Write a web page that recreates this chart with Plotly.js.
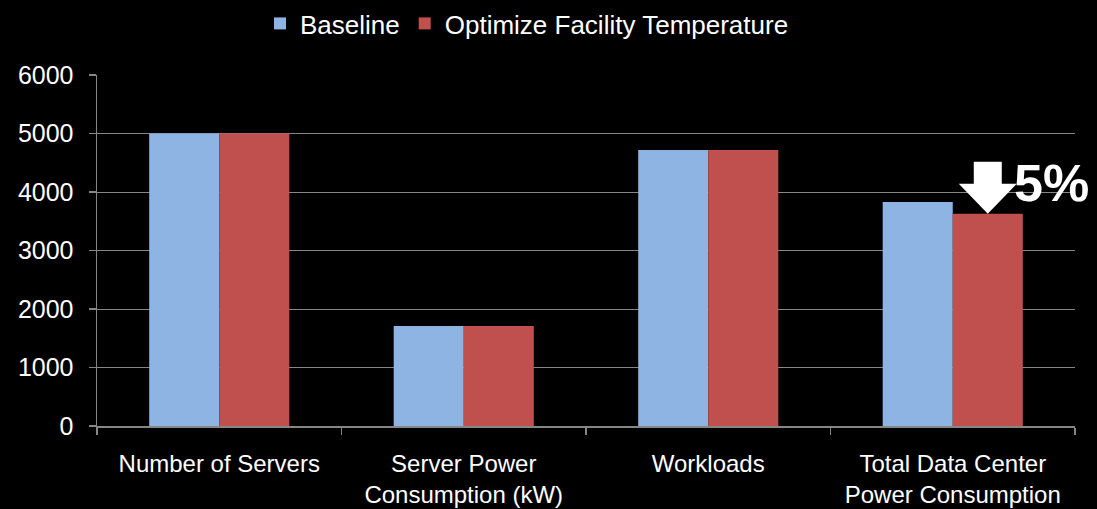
<!DOCTYPE html>
<html>
<head>
<meta charset="utf-8">
<script src="https://cdn.plot.ly/plotly-3.0.1.min.js"></script>
<style>
  html, body { margin: 0; padding: 0; background: #000; }
  #chart { width: 1097px; height: 509px; }
</style>
</head>
<body>
<div id="chart"></div>
<script>
const categories = ["Number of Servers", "Server Power<br>Consumption (kW)", "Workloads", "Total Data Center<br>Power Consumption"];
const baselineValues = [5000, 1710, 4720, 3830];
const optimizedValues = [5000, 1710, 4720, 3630];
const seriesNames = ["Baseline", "Optimize Facility Temperature"];
const yTickValues = [0, 1000, 2000, 3000, 4000, 5000, 6000];
const reductionLabel = "5%";

const FONT = "Liberation Sans, Arial, sans-serif";
const GRID = "#868686";
const BARGAP = 0.427;
const idx = categories.map((_, i) => i);
const boundaries = Array.from({ length: categories.length + 1 }, (_, i) => i - 0.5);

const traces = [
  { type: "bar", name: seriesNames[0], x: idx, y: baselineValues, marker: { color: "#8EB4E3" }, hoverinfo: "y" },
  { type: "bar", name: seriesNames[1], x: idx, y: optimizedValues, marker: { color: "#C0504D" }, hoverinfo: "y" }
];

const last = categories.length - 1;
const tipX = last + (1 - BARGAP) / 4;
const tipY = optimizedValues[last];

const layout = {
  width: 1097, height: 509,
  paper_bgcolor: "#000", plot_bgcolor: "#000",
  margin: { l: 97, r: 22, t: 75, b: 83 },
  font: { family: FONT, size: 25, color: "#fff" },
  barmode: "group", bargap: BARGAP, bargroupgap: 0,
  showlegend: true,
  legend: {
    orientation: "h", xref: "container", yref: "container",
    x: 0.237, xanchor: "left", y: 1, yanchor: "top",
    font: { family: FONT, size: 26, color: "#fff" },
    bgcolor: "rgba(0,0,0,0)", itemclick: false, itemdoubleclick: false
  },
  xaxis: {
    type: "linear", range: [-0.5, categories.length - 0.5],
    tickmode: "array", tickvals: idx, ticktext: categories,
    showgrid: false, zeroline: false,
    showline: true, linecolor: GRID, linewidth: 2,
    ticks: "", tickfont: { family: FONT, size: 24, color: "#fff" },
    ticklabelstandoff: 15,
    minor: { tickmode: "array", tickvals: boundaries, ticks: "outside", ticklen: 7, tickcolor: GRID, tickwidth: 1.5, showgrid: false },
    fixedrange: true
  },
  yaxis: {
    range: [0, 6000], tickmode: "array", tickvals: yTickValues,
    showgrid: true, gridcolor: GRID, gridwidth: 1,
    zeroline: false, showline: true, linecolor: GRID, linewidth: 1.5,
    ticks: "outside", ticklen: 7, tickcolor: GRID, tickwidth: 1.5,
    tickfont: { family: FONT, size: 25, color: "#fff" },
    ticklabelstandoff: 10,
    fixedrange: true
  },
  shapes: [
    {
      type: "path", xref: "x", yref: "y",
      xsizemode: "pixel", ysizemode: "pixel",
      xanchor: tipX, yanchor: tipY,
      path: "M 0 0 L -29 30 L -14 30 L -14 52 L 14 52 L 14 30 L 29 30 Z",
      fillcolor: "#fff", line: { width: 0 }
    }
  ],
  annotations: [{
    xref: "x", yref: "y", x: tipX, y: tipY,
    xanchor: "left", yanchor: "bottom", xshift: 24, yshift: 0,
    text: "<b>" + reductionLabel + "</b>", showarrow: false,
    font: { family: FONT, size: 52, color: "#fff" }
  }]
};

Plotly.newPlot("chart", traces, layout, { displayModeBar: false, staticPlot: true });
</script>
</body>
</html>
